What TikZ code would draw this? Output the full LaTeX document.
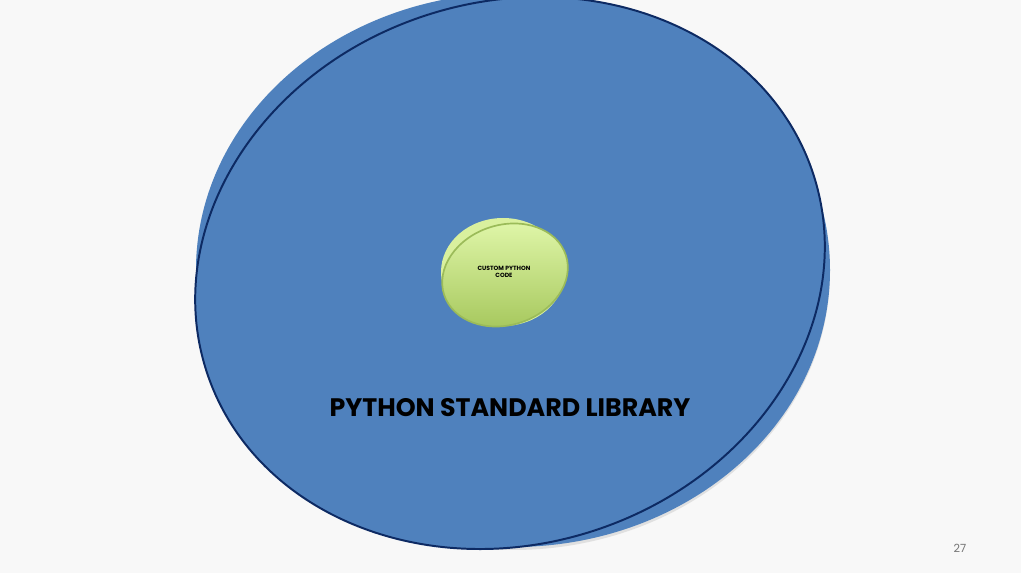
\documentclass[tikz,border=0pt]{standalone}
\usepackage{fontspec}
\setmainfont{Poppins}
\definecolor{pagebg}{HTML}{F8F8F8}
\definecolor{libblue}{HTML}{4F81BD}
\definecolor{libnavy}{HTML}{0D2A63}
\definecolor{codetop}{HTML}{E2F8AC}
\definecolor{codebottom}{HTML}{A4C65A}
\definecolor{codeedge}{HTML}{9BBB59}
\definecolor{codeback}{HTML}{D9F09E}
\begin{document}
\begin{tikzpicture}[x=0.025cm, y=0.025cm,
    libtext/.style={font=\bfseries\fontsize{18}{18}\selectfont, text=black},
    codetext/.style={font=\bfseries\fontsize{4.3}{5}\selectfont, align=center, text=black},
    pagenum/.style={font=\fontsize{8}{8}\selectfont, text=black!55}]

    % Page background
	\fill[pagebg] (0,0) rectangle (1021,573);
	\useasboundingbox (0,0) rectangle (1021,573);

    % Library ellipse: soft shadow, plain copy behind, tilted outlined one in front
	\fill[black!12] (513,301) ellipse (317 and 278);
	\fill[libblue] (513,303) ellipse (317 and 277);
	\draw[libnavy, line width=1.4pt, fill=libblue] (510,300) [rotate around={18:(510,300)}] ellipse (319 and 271);

    % Custom code circle
	\fill[codeback] (503,301) ellipse (62 and 54);
	\shade[top color=codetop, bottom color=codebottom, draw=codeedge, line width=1.2pt]
        (505,298) [rotate around={18:(505,298)}] ellipse (64 and 50);

    % Labels
	\node[codetext] (code) at (504,301) {CUSTOM PYTHON\\CODE};
	\node[libtext] (lib) at (510,165) {PYTHON STANDARD LIBRARY};
	\node[pagenum] (page) at (960,25) {27};

\end{tikzpicture}
\end{document}
